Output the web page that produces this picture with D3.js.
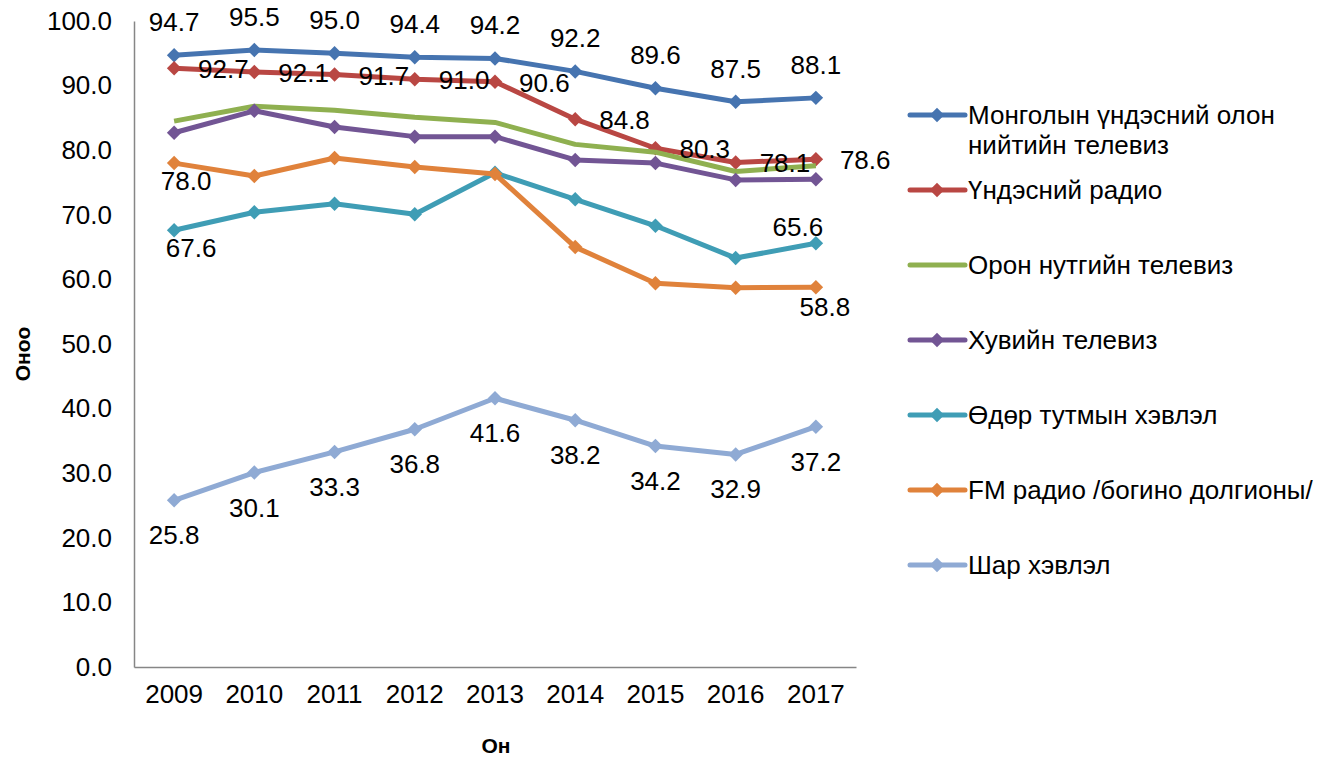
<!DOCTYPE html>
<html>
<head>
<meta charset="utf-8">
<script src="https://cdn.jsdelivr.net/npm/d3@7"></script>
<style>
  body { margin: 0; background: #fff; }
  svg text { font-family: "Liberation Sans", Arial, sans-serif; fill: #000; }
</style>
</head>
<body>
<div id="chart"></div>
<script>
// values
var years = ['2009', '2010', '2011', '2012', '2013', '2014', '2015', '2016', '2017'];
var yTicks = [0, 10, 20, 30, 40, 50, 60, 70, 80, 90, 100];

var mnbTv     = [94.7, 95.5, 95.0, 94.4, 94.2, 92.2, 89.6, 87.5, 88.1];
var natRadio  = [92.7, 92.1, 91.7, 91.0, 90.6, 84.8, 80.3, 78.1, 78.6];
var localTv   = [84.5, 86.8, 86.2, 85.1, 84.3, 80.9, 79.7, 76.7, 77.6];
var privateTv = [82.7, 86.1, 83.6, 82.1, 82.1, 78.5, 78.0, 75.4, 75.5];
var dailyNews = [67.6, 70.4, 71.7, 70.1, 76.5, 72.4, 68.3, 63.3, 65.6];
var fmRadio   = [78.0, 76.0, 78.8, 77.4, 76.3, 65.0, 59.4, 58.7, 58.8];
var tabloid   = [25.8, 30.1, 33.3, 36.8, 41.6, 38.2, 34.2, 32.9, 37.2];

var seriesNames = [
    ['Монголын үндэсний олон', 'нийтийн телевиз'],
    ['Үндэсний радио'],
    ['Орон нутгийн телевиз'],
    ['Хувийн телевиз'],
    ['Өдөр тутмын хэвлэл'],
    ['FM радио /богино долгионы/'],
    ['Шар хэвлэл']
];

var colors = ['#4674B0', '#B94743', '#8FB050', '#725594', '#3F9DB5', '#E0823B', '#8FAAD4'];

var series = [mnbTv, natRadio, localTv, privateTv, dailyNews, fmRadio, tabloid];
var all9 = [0, 1, 2, 3, 4, 5, 6, 7, 8];

// which points carry a data label, and how the label is shifted from the point
var labelRules = [
    [{idx: all9, anchor: 'middle', dx: 0, dy: -24}],
    [{idx: all9, anchor: 'start', dx: 24, dy: 10}],
    [],
    [],
    [{idx: [0], anchor: 'middle', dx: 17, dy: 27}, {idx: [8], anchor: 'middle', dx: -18, dy: -7}],
    [{idx: [0], anchor: 'middle', dx: 12, dy: 27}, {idx: [8], anchor: 'middle', dx: 9, dy: 29}],
    [{idx: all9, anchor: 'middle', dx: 0, dy: 44}]
];

var width = 1338, height = 759;
var margin = {top: 21, left: 134, right: 482, bottom: 92};
var fs = 26;

var svg = d3.select('#chart').append('svg')
    .attr('width', width)
    .attr('height', height);

var x = d3.scaleBand().domain(years).range([margin.left, width - margin.right]);
var y = d3.scaleLinear().domain([0, 100]).range([height - margin.bottom, margin.top]);

/* axes */
var yAxis = d3.axisLeft(y).tickValues(yTicks).tickSize(0).tickPadding(22)
    .tickFormat(d3.format('.1f'));
var gy = svg.append('g')
    .attr('transform', 'translate(' + margin.left + ',0)')
    .call(yAxis);
gy.select('.domain').attr('stroke', '#868686').attr('stroke-width', 1.5);
gy.selectAll('text').attr('font-size', fs).attr('font-family', '"Liberation Sans", Arial, sans-serif');

var xAxis = d3.axisBottom(x).tickSize(0).tickPadding(18);
var gx = svg.append('g')
    .attr('transform', 'translate(0,' + y(0) + ')')
    .call(xAxis);
gx.select('.domain').attr('stroke', '#868686').attr('stroke-width', 1.5);
gx.selectAll('text').attr('font-size', fs).attr('font-family', '"Liberation Sans", Arial, sans-serif');

/* axis titles */
svg.append('text')
    .attr('transform', 'translate(30,' + (y(50) + 10) + ') rotate(-90)')
    .attr('text-anchor', 'middle')
    .attr('font-size', 21)
    .attr('font-weight', 'bold')
    .text('Оноо');

svg.append('text')
    .attr('x', x('2013') + x.bandwidth() / 2 + 1)
    .attr('y', 753)
    .attr('text-anchor', 'middle')
    .attr('font-size', 21)
    .attr('font-weight', 'bold')
    .text('Он');

var cx = function(i) { return x(years[i]) + x.bandwidth() / 2; };

var line = d3.line()
    .x(function(d, i) { return cx(i); })
    .y(function(d) { return y(d); });

var diamond = d3.symbol().type(d3.symbolSquare).size(105);

/* lines and markers */
series.forEach(function(vals, s) {
    var g = svg.append('g');
    g.append('path')
        .datum(vals)
        .attr('fill', 'none')
        .attr('stroke', colors[s])
        .attr('stroke-width', 5)
        .attr('stroke-linejoin', 'round')
        .attr('d', line);

    if (s !== 2) {
        g.selectAll('.marker')
            .data(vals)
            .enter().append('path')
            .attr('class', 'marker')
            .attr('fill', colors[s])
            .attr('d', diamond)
            .attr('transform', function(d, i) {
                return 'translate(' + cx(i) + ',' + y(d) + ') rotate(45)';
            });
    }
});

/* data labels drawn after all lines so they sit on top */
series.forEach(function(vals, s) {
    labelRules[s].forEach(function(rule) {
        rule.idx.forEach(function(i) {
            svg.append('text')
                .attr('font-size', fs)
                .attr('text-anchor', rule.anchor)
                .attr('x', cx(i) + rule.dx)
                .attr('y', y(vals[i]) + rule.dy)
                .text(d3.format('.1f')(vals[i]));
        });
    });
});

/* legend */
var legend = svg.append('g').attr('transform', 'translate(908,0)');
seriesNames.forEach(function(name, s) {
    var ly = 115 + s * 75;
    var g = legend.append('g').attr('transform', 'translate(0,' + ly + ')');
    g.append('line')
        .attr('x1', 2).attr('x2', 57)
        .attr('stroke', colors[s])
        .attr('stroke-width', 5)
        .attr('stroke-linecap', 'round');
    if (s !== 2) {
        g.append('path')
            .attr('fill', colors[s])
            .attr('d', diamond)
            .attr('transform', 'translate(29,0) rotate(45)');
    }
    name.forEach(function(part, k) {
        g.append('text')
            .attr('x', 60)
            .attr('y', 9 + k * 30)
            .attr('font-size', fs)
            .text(part);
    });
});
</script>
</body>
</html>
